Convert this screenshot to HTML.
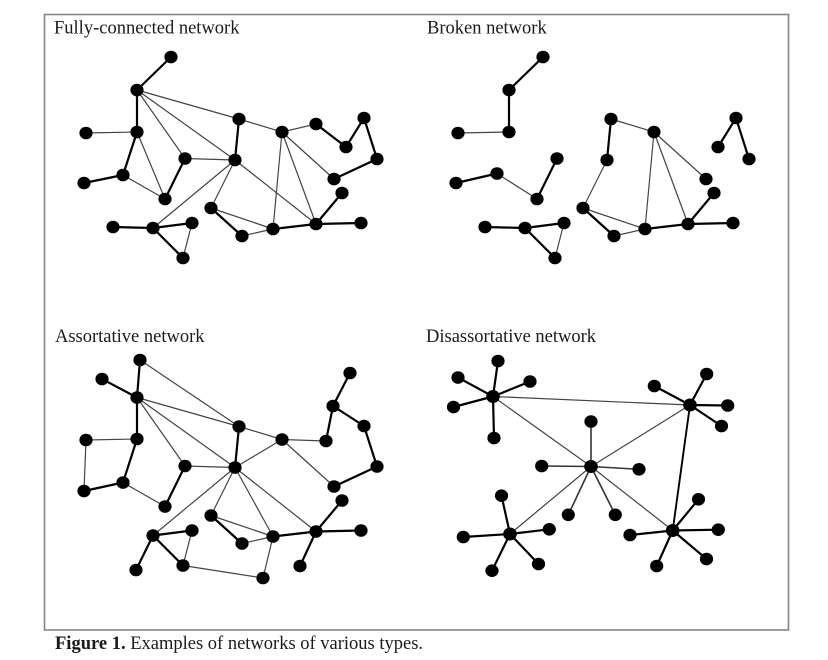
<!DOCTYPE html>
<html><head><meta charset="utf-8"><style>
html,body{margin:0;padding:0;background:#fff;}
svg{display:block;}
text{font-family:"Liberation Serif",serif;font-size:18.5px;fill:#1a1a1a;}
.k{stroke:#000;stroke-width:2.2;fill:none;stroke-linecap:round;}
.t{stroke:#444;stroke-width:1.2;fill:none;}
.m{stroke:#333;stroke-width:1.6;fill:none;}
ellipse{fill:#000;}
</style></head><body>
<svg width="828" height="660" viewBox="0 0 828 660" xmlns="http://www.w3.org/2000/svg">
<rect x="0" y="0" width="828" height="660" fill="#fff"/>
<rect x="44.5" y="14.5" width="744" height="615.5" fill="none" stroke="#858585" stroke-width="1.6"/>

<text x="54" y="33.3">Fully-connected network</text>
<text x="427" y="33.3">Broken network</text>
<text x="55" y="342">Assortative network</text>
<text x="426" y="342">Disassortative network</text>
<text x="55" y="649"><tspan font-weight="bold">Figure 1.</tspan> Examples of networks of various types.</text>

<!-- Q1 Fully-connected -->
<g>
<line class="k" x1="171" y1="57" x2="137" y2="90"/>
<line class="k" x1="137" y1="90" x2="137" y2="132"/>
<line class="t" x1="86" y1="133" x2="137" y2="132"/>
<line class="k" x1="137" y1="132" x2="123" y2="175"/>
<line class="k" x1="84" y1="183" x2="123" y2="175"/>
<line class="t" x1="123" y1="175" x2="165" y2="199"/>
<line class="t" x1="137" y1="132" x2="165" y2="199"/>
<line class="t" x1="137" y1="90" x2="185" y2="158.5"/>
<line class="k" x1="185" y1="158.5" x2="165" y2="199"/>
<line class="t" x1="137" y1="90" x2="235" y2="160"/>
<line class="t" x1="137" y1="90" x2="239" y2="119"/>
<line class="k" x1="239" y1="119" x2="235" y2="160"/>
<line class="t" x1="239" y1="119" x2="282" y2="132"/>
<line class="t" x1="282" y1="132" x2="316" y2="124"/>
<line class="k" x1="316" y1="124" x2="346" y2="147"/>
<line class="k" x1="346" y1="147" x2="364" y2="118"/>
<line class="k" x1="364" y1="118" x2="377" y2="159"/>
<line class="k" x1="377" y1="159" x2="334" y2="179"/>
<line class="t" x1="282" y1="132" x2="334" y2="179"/>
<line class="t" x1="282" y1="132" x2="273" y2="229"/>
<line class="t" x1="282" y1="132" x2="316" y2="224"/>
<line class="t" x1="235" y1="160" x2="185" y2="158.5"/>
<line class="t" x1="235" y1="160" x2="153" y2="228"/>
<line class="t" x1="235" y1="160" x2="211" y2="208"/>
<line class="t" x1="235" y1="160" x2="316" y2="224"/>
<line class="k" x1="211" y1="208" x2="242" y2="236"/>
<line class="t" x1="211" y1="208" x2="273" y2="229"/>
<line class="t" x1="242" y1="236" x2="273" y2="229"/>
<line class="k" x1="273" y1="229" x2="316" y2="224"/>
<line class="k" x1="316" y1="224" x2="342" y2="193"/>
<line class="k" x1="316" y1="224" x2="361" y2="223"/>
<line class="k" x1="113" y1="227" x2="153" y2="228"/>
<line class="k" x1="153" y1="228" x2="192" y2="223"/>
<line class="k" x1="153" y1="228" x2="183" y2="258"/>
<line class="t" x1="192" y1="223" x2="183" y2="258"/>
<g>
<ellipse cx="171" cy="57" rx="6.6" ry="6.3"/><ellipse cx="137" cy="90" rx="6.6" ry="6.3"/>
<ellipse cx="86" cy="133" rx="6.6" ry="6.3"/><ellipse cx="137" cy="132" rx="6.6" ry="6.3"/>
<ellipse cx="84" cy="183" rx="6.6" ry="6.3"/><ellipse cx="123" cy="175" rx="6.6" ry="6.3"/>
<ellipse cx="165" cy="199" rx="6.6" ry="6.3"/><ellipse cx="185" cy="158.5" rx="6.6" ry="6.3"/>
<ellipse cx="239" cy="119" rx="6.6" ry="6.3"/><ellipse cx="235" cy="160" rx="6.6" ry="6.3"/>
<ellipse cx="282" cy="132" rx="6.6" ry="6.3"/><ellipse cx="316" cy="124" rx="6.6" ry="6.3"/>
<ellipse cx="346" cy="147" rx="6.6" ry="6.3"/><ellipse cx="364" cy="118" rx="6.6" ry="6.3"/>
<ellipse cx="377" cy="159" rx="6.6" ry="6.3"/><ellipse cx="334" cy="179" rx="6.6" ry="6.3"/>
<ellipse cx="342" cy="193" rx="6.6" ry="6.3"/><ellipse cx="361" cy="223" rx="6.6" ry="6.3"/>
<ellipse cx="316" cy="224" rx="6.6" ry="6.3"/><ellipse cx="273" cy="229" rx="6.6" ry="6.3"/>
<ellipse cx="242" cy="236" rx="6.6" ry="6.3"/><ellipse cx="211" cy="208" rx="6.6" ry="6.3"/>
<ellipse cx="113" cy="227" rx="6.6" ry="6.3"/><ellipse cx="153" cy="228" rx="6.6" ry="6.3"/>
<ellipse cx="192" cy="223" rx="6.6" ry="6.3"/><ellipse cx="183" cy="258" rx="6.6" ry="6.3"/>
</g>
</g>

<!-- Q2 Broken -->
<g transform="translate(372,0)">
<line class="k" x1="171" y1="57" x2="137" y2="90"/>
<line class="k" x1="137" y1="90" x2="137" y2="132"/>
<line class="t" x1="86" y1="133" x2="137" y2="132"/>
<line class="k" x1="84" y1="183" x2="125" y2="173.5"/>
<line class="t" x1="125" y1="173.5" x2="165" y2="199"/>
<line class="k" x1="185" y1="158.5" x2="165" y2="199"/>
<line class="k" x1="239" y1="119" x2="235" y2="160"/>
<line class="t" x1="239" y1="119" x2="282" y2="132"/>
<line class="k" x1="346" y1="147" x2="364" y2="118"/>
<line class="k" x1="364" y1="118" x2="377" y2="159"/>
<line class="t" x1="282" y1="132" x2="334" y2="179"/>
<line class="t" x1="282" y1="132" x2="273" y2="229"/>
<line class="t" x1="282" y1="132" x2="316" y2="224"/>
<line class="t" x1="235" y1="160" x2="211" y2="208"/>
<line class="k" x1="211" y1="208" x2="242" y2="236"/>
<line class="t" x1="211" y1="208" x2="273" y2="229"/>
<line class="t" x1="242" y1="236" x2="273" y2="229"/>
<line class="k" x1="273" y1="229" x2="316" y2="224"/>
<line class="k" x1="316" y1="224" x2="342" y2="193"/>
<line class="k" x1="316" y1="224" x2="361" y2="223"/>
<line class="k" x1="113" y1="227" x2="153" y2="228"/>
<line class="k" x1="153" y1="228" x2="192" y2="223"/>
<line class="k" x1="153" y1="228" x2="183" y2="258"/>
<line class="t" x1="192" y1="223" x2="183" y2="258"/>
<g>
<ellipse cx="171" cy="57" rx="6.6" ry="6.3"/><ellipse cx="137" cy="90" rx="6.6" ry="6.3"/>
<ellipse cx="86" cy="133" rx="6.6" ry="6.3"/><ellipse cx="137" cy="132" rx="6.6" ry="6.3"/>
<ellipse cx="84" cy="183" rx="6.6" ry="6.3"/><ellipse cx="125" cy="173.5" rx="6.6" ry="6.3"/>
<ellipse cx="165" cy="199" rx="6.6" ry="6.3"/><ellipse cx="185" cy="158.5" rx="6.6" ry="6.3"/>
<ellipse cx="239" cy="119" rx="6.6" ry="6.3"/><ellipse cx="235" cy="160" rx="6.6" ry="6.3"/>
<ellipse cx="282" cy="132" rx="6.6" ry="6.3"/>
<ellipse cx="346" cy="147" rx="6.6" ry="6.3"/><ellipse cx="364" cy="118" rx="6.6" ry="6.3"/>
<ellipse cx="377" cy="159" rx="6.6" ry="6.3"/><ellipse cx="334" cy="179" rx="6.6" ry="6.3"/>
<ellipse cx="342" cy="193" rx="6.6" ry="6.3"/><ellipse cx="361" cy="223" rx="6.6" ry="6.3"/>
<ellipse cx="316" cy="224" rx="6.6" ry="6.3"/><ellipse cx="273" cy="229" rx="6.6" ry="6.3"/>
<ellipse cx="242" cy="236" rx="6.6" ry="6.3"/><ellipse cx="211" cy="208" rx="6.6" ry="6.3"/>
<ellipse cx="113" cy="227" rx="6.6" ry="6.3"/><ellipse cx="153" cy="228" rx="6.6" ry="6.3"/>
<ellipse cx="192" cy="223" rx="6.6" ry="6.3"/><ellipse cx="183" cy="258" rx="6.6" ry="6.3"/>
</g>
</g>

<!-- Q3 Assortative -->
<g>
<line class="k" x1="140" y1="360" x2="137" y2="397.5"/>
<line class="k" x1="102" y1="379" x2="137" y2="397.5"/>
<line class="t" x1="140" y1="360" x2="239" y2="426.5"/>
<line class="t" x1="137" y1="397.5" x2="239" y2="426.5"/>
<line class="t" x1="137" y1="397.5" x2="235" y2="467.5"/>
<line class="t" x1="137" y1="397.5" x2="185" y2="466"/>
<line class="k" x1="137" y1="397.5" x2="137" y2="439"/>
<line class="t" x1="86" y1="440" x2="137" y2="439"/>
<line class="t" x1="86" y1="440" x2="84" y2="491"/>
<line class="k" x1="84" y1="491" x2="123" y2="482.5"/>
<line class="k" x1="137" y1="439" x2="123" y2="482.5"/>
<line class="t" x1="123" y1="482.5" x2="165" y2="506.5"/>
<line class="k" x1="185" y1="466" x2="165" y2="506.5"/>
<line class="t" x1="185" y1="466" x2="235" y2="467.5"/>
<line class="k" x1="239" y1="426.5" x2="235" y2="467.5"/>
<line class="t" x1="239" y1="426.5" x2="282" y2="439.5"/>
<line class="t" x1="235" y1="467.5" x2="282" y2="439.5"/>
<line class="t" x1="282" y1="439.5" x2="326" y2="441"/>
<line class="k" x1="326" y1="441" x2="333" y2="406"/>
<line class="k" x1="333" y1="406" x2="350" y2="373"/>
<line class="k" x1="333" y1="406" x2="364" y2="426"/>
<line class="k" x1="364" y1="426" x2="377" y2="466.5"/>
<line class="k" x1="377" y1="466.5" x2="334" y2="486.5"/>
<line class="t" x1="282" y1="439.5" x2="334" y2="486.5"/>
<line class="t" x1="235" y1="467.5" x2="153" y2="535.5"/>
<line class="t" x1="235" y1="467.5" x2="211" y2="515.5"/>
<line class="t" x1="235" y1="467.5" x2="273" y2="536.5"/>
<line class="t" x1="235" y1="467.5" x2="316" y2="531.5"/>
<line class="k" x1="211" y1="515.5" x2="242" y2="543.5"/>
<line class="t" x1="211" y1="515.5" x2="273" y2="536.5"/>
<line class="t" x1="242" y1="543.5" x2="273" y2="536.5"/>
<line class="k" x1="273" y1="536.5" x2="316" y2="531.5"/>
<line class="k" x1="316" y1="531.5" x2="342" y2="500.5"/>
<line class="k" x1="316" y1="531.5" x2="361" y2="530.5"/>
<line class="k" x1="316" y1="531.5" x2="300" y2="566"/>
<line class="t" x1="273" y1="536.5" x2="263" y2="578"/>
<line class="k" x1="153" y1="535.5" x2="192" y2="530.5"/>
<line class="k" x1="153" y1="535.5" x2="183" y2="565.5"/>
<line class="t" x1="192" y1="530.5" x2="183" y2="565.5"/>
<line class="k" x1="153" y1="535.5" x2="136" y2="570"/>
<line class="t" x1="183" y1="565.5" x2="263" y2="578"/>
<g>
<ellipse cx="140" cy="360" rx="6.6" ry="6.3"/><ellipse cx="102" cy="379" rx="6.6" ry="6.3"/>
<ellipse cx="137" cy="397.5" rx="6.6" ry="6.3"/><ellipse cx="86" cy="440" rx="6.6" ry="6.3"/>
<ellipse cx="137" cy="439" rx="6.6" ry="6.3"/><ellipse cx="84" cy="491" rx="6.6" ry="6.3"/>
<ellipse cx="123" cy="482.5" rx="6.6" ry="6.3"/><ellipse cx="165" cy="506.5" rx="6.6" ry="6.3"/>
<ellipse cx="185" cy="466" rx="6.6" ry="6.3"/><ellipse cx="239" cy="426.5" rx="6.6" ry="6.3"/>
<ellipse cx="235" cy="467.5" rx="6.6" ry="6.3"/><ellipse cx="282" cy="439.5" rx="6.6" ry="6.3"/>
<ellipse cx="326" cy="441" rx="6.6" ry="6.3"/><ellipse cx="333" cy="406" rx="6.6" ry="6.3"/>
<ellipse cx="350" cy="373" rx="6.6" ry="6.3"/><ellipse cx="364" cy="426" rx="6.6" ry="6.3"/>
<ellipse cx="377" cy="466.5" rx="6.6" ry="6.3"/><ellipse cx="334" cy="486.5" rx="6.6" ry="6.3"/>
<ellipse cx="342" cy="500.5" rx="6.6" ry="6.3"/><ellipse cx="361" cy="530.5" rx="6.6" ry="6.3"/>
<ellipse cx="316" cy="531.5" rx="6.6" ry="6.3"/><ellipse cx="300" cy="566" rx="6.6" ry="6.3"/>
<ellipse cx="273" cy="536.5" rx="6.6" ry="6.3"/><ellipse cx="242" cy="543.5" rx="6.6" ry="6.3"/>
<ellipse cx="211" cy="515.5" rx="6.6" ry="6.3"/><ellipse cx="153" cy="535.5" rx="6.6" ry="6.3"/>
<ellipse cx="192" cy="530.5" rx="6.6" ry="6.3"/><ellipse cx="183" cy="565.5" rx="6.6" ry="6.3"/>
<ellipse cx="136" cy="570" rx="6.6" ry="6.3"/><ellipse cx="263" cy="578" rx="6.6" ry="6.3"/>
</g>
</g>

<!-- Q4 Disassortative -->
<g>
<line class="t" x1="493" y1="396.5" x2="690" y2="405"/>
<line class="t" x1="493" y1="396.5" x2="591" y2="466.5"/>
<line class="t" x1="591" y1="466.5" x2="690" y2="405"/>
<line class="t" x1="591" y1="466.5" x2="510" y2="534"/>
<line class="t" x1="591" y1="466.5" x2="672.7" y2="530.5"/>
<line class="k" style="stroke-width:1.9" x1="690" y1="405" x2="672.7" y2="530.5"/>
<!-- hub1 leaves -->
<line class="k" x1="493" y1="396.5" x2="498" y2="361"/>
<line class="k" x1="493" y1="396.5" x2="458" y2="377.5"/>
<line class="k" x1="493" y1="396.5" x2="530" y2="381.5"/>
<line class="k" x1="493" y1="396.5" x2="453.5" y2="407"/>
<line class="k" x1="493" y1="396.5" x2="494" y2="438"/>
<!-- hub2 leaves -->
<line class="k" x1="690" y1="405" x2="706.7" y2="374"/>
<line class="k" x1="690" y1="405" x2="654.3" y2="386"/>
<line class="k" x1="690" y1="405" x2="727.7" y2="405.5"/>
<line class="k" x1="690" y1="405" x2="721.5" y2="426"/>
<!-- center leaves -->
<line class="m" x1="591" y1="466.5" x2="591" y2="421.5"/>
<line class="m" x1="591" y1="466.5" x2="541.7" y2="466"/>
<line class="m" x1="591" y1="466.5" x2="639" y2="469.3"/>
<line class="m" x1="591" y1="466.5" x2="568.3" y2="514.8"/>
<line class="m" x1="591" y1="466.5" x2="615.3" y2="514.8"/>
<!-- hub3 leaves -->
<line class="k" x1="510" y1="534" x2="501.5" y2="495.7"/>
<line class="k" x1="510" y1="534" x2="463.3" y2="537"/>
<line class="k" x1="510" y1="534" x2="549.3" y2="529.3"/>
<line class="k" x1="510" y1="534" x2="538.5" y2="564"/>
<line class="k" x1="510" y1="534" x2="492" y2="570.7"/>
<!-- hub4 leaves -->
<line class="k" x1="672.7" y1="530.5" x2="698.5" y2="499.3"/>
<line class="k" x1="672.7" y1="530.5" x2="630" y2="535"/>
<line class="k" x1="672.7" y1="530.5" x2="718.3" y2="529.7"/>
<line class="k" x1="672.7" y1="530.5" x2="706.5" y2="559"/>
<line class="k" x1="672.7" y1="530.5" x2="656.7" y2="566"/>
<g>
<ellipse cx="493" cy="396.5" rx="6.8" ry="6.5"/><ellipse cx="498" cy="361" rx="6.6" ry="6.3"/>
<ellipse cx="458" cy="377.5" rx="6.6" ry="6.3"/><ellipse cx="530" cy="381.5" rx="6.6" ry="6.3"/>
<ellipse cx="453.5" cy="407" rx="6.6" ry="6.3"/><ellipse cx="494" cy="438" rx="6.6" ry="6.3"/>
<ellipse cx="690" cy="405" rx="6.8" ry="6.5"/><ellipse cx="706.7" cy="374" rx="6.6" ry="6.3"/>
<ellipse cx="654.3" cy="386" rx="6.6" ry="6.3"/><ellipse cx="727.7" cy="405.5" rx="6.6" ry="6.3"/>
<ellipse cx="721.5" cy="426" rx="6.6" ry="6.3"/>
<ellipse cx="591" cy="466.5" rx="6.8" ry="6.5"/><ellipse cx="591" cy="421.5" rx="6.6" ry="6.3"/>
<ellipse cx="541.7" cy="466" rx="6.6" ry="6.3"/><ellipse cx="639" cy="469.3" rx="6.6" ry="6.3"/>
<ellipse cx="568.3" cy="514.8" rx="6.6" ry="6.3"/><ellipse cx="615.3" cy="514.8" rx="6.6" ry="6.3"/>
<ellipse cx="510" cy="534" rx="6.8" ry="6.5"/><ellipse cx="501.5" cy="495.7" rx="6.6" ry="6.3"/>
<ellipse cx="463.3" cy="537" rx="6.6" ry="6.3"/><ellipse cx="549.3" cy="529.3" rx="6.6" ry="6.3"/>
<ellipse cx="538.5" cy="564" rx="6.6" ry="6.3"/><ellipse cx="492" cy="570.7" rx="6.6" ry="6.3"/>
<ellipse cx="672.7" cy="530.5" rx="6.8" ry="6.5"/><ellipse cx="698.5" cy="499.3" rx="6.6" ry="6.3"/>
<ellipse cx="630" cy="535" rx="6.6" ry="6.3"/><ellipse cx="718.3" cy="529.7" rx="6.6" ry="6.3"/>
<ellipse cx="706.5" cy="559" rx="6.6" ry="6.3"/><ellipse cx="656.7" cy="566" rx="6.6" ry="6.3"/>
</g>
</g>
</svg>
</body></html>
